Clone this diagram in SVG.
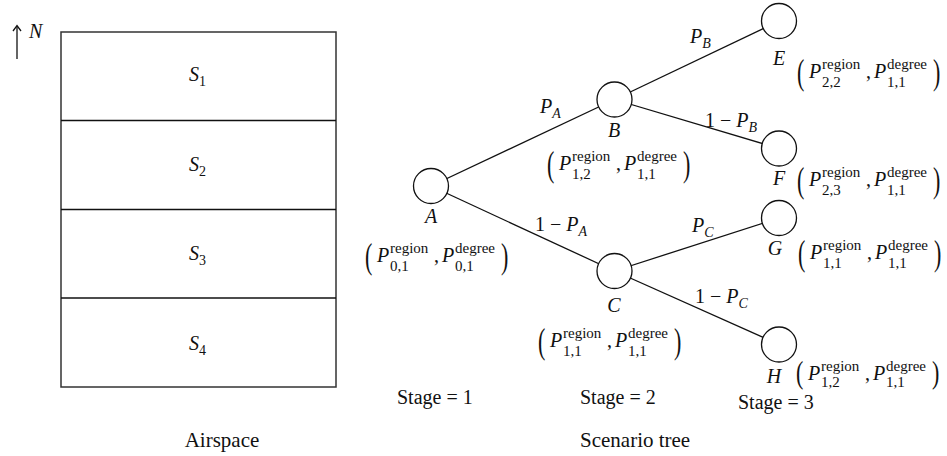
<svg xmlns="http://www.w3.org/2000/svg" width="947" height="456" viewBox="0 0 947 456" font-family="'Liberation Serif', 'DejaVu Serif', serif">
<style>
text{font-family:'Liberation Serif','DejaVu Serif',serif;fill:#111}
.it{font-style:italic}
.t{font-size:20px}
.s{font-size:14px}
.sc{font-size:15px}
.pr{font-size:22px}
.edge{stroke:#111;stroke-width:1.3;fill:none}
.node{fill:#fff;stroke:#111;stroke-width:1.3}
.box{fill:none;stroke:#333;stroke-width:1.5}
.div{stroke:#111;stroke-width:1.5}
</style>
<rect width="947" height="456" fill="#fff"/>

<g id="airspace">
  <rect class="box" x="61" y="32" width="275" height="355"/>
  <line class="div" x1="61" y1="120.5" x2="336" y2="120.5"/>
  <line class="div" x1="61" y1="209.5" x2="336" y2="209.5"/>
  <line class="div" x1="61" y1="298" x2="336" y2="298"/>
  <text class="t it" x="189" y="80.5">S<tspan class="s" font-style="normal" dy="5">1</tspan></text>
  <text class="t it" x="189" y="170.5">S<tspan class="s" font-style="normal" dy="5">2</tspan></text>
  <text class="t it" x="189" y="259.5">S<tspan class="s" font-style="normal" dy="5">3</tspan></text>
  <text class="t it" x="189" y="350">S<tspan class="s" font-style="normal" dy="5">4</tspan></text>
  <text class="t" x="222" y="447" text-anchor="middle" style="font-size:21px">Airspace</text>
</g>

<g id="north">
  <line class="edge" x1="17" y1="26" x2="17" y2="59"/>
  <polyline class="edge" points="13,31 17,25.5 21,31"/>
  <text class="t it" x="29" y="38">N</text>
</g>

<g id="connectors">
  <line class="edge" x1="431" y1="186" x2="614.5" y2="99.5"/>
  <line class="edge" x1="431" y1="186" x2="614.5" y2="271"/>
  <line class="edge" x1="614.5" y1="99.5" x2="779" y2="21"/>
  <line class="edge" x1="614.5" y1="99.5" x2="779" y2="148.5"/>
  <line class="edge" x1="614.5" y1="271" x2="779" y2="218"/>
  <line class="edge" x1="614.5" y1="271" x2="779" y2="344.5"/>
  <text class="t it" x="540" y="113">P<tspan class="s" dy="5">A</tspan></text>
  <text class="t" x="535" y="231">1 − <tspan class="it">P</tspan><tspan class="s it" dy="5">A</tspan></text>
  <text class="t it" x="690" y="43">P<tspan class="s" dy="5">B</tspan></text>
  <text class="t" x="705" y="127">1 − <tspan class="it">P</tspan><tspan class="s it" dy="5">B</tspan></text>
  <text class="t it" x="692" y="232">P<tspan class="s" dy="5">C</tspan></text>
  <text class="t" x="695" y="303">1 − <tspan class="it">P</tspan><tspan class="s it" dy="5">C</tspan></text>
</g>

<g id="node-A">
  <circle class="node" cx="431" cy="186" r="17.5"/>
  <text class="t it" x="431" y="223" text-anchor="middle">A</text>
  <g transform="translate(365,262)">
    <text class="pr" transform="translate(0,6) scale(1,1.6)">(</text>
    <text class="t it" x="12">P</text>
    <text class="sc" x="25" y="-9">region</text>
    <text class="sc" x="25" y="9">0,1</text>
    <text class="t" x="69">,</text>
    <text class="t it" x="77">P</text>
    <text class="sc" x="90" y="-9">degree</text>
    <text class="sc" x="90" y="9">0,1</text>
    <text class="pr" transform="translate(136,6) scale(1,1.6)">)</text>
  </g>
</g>

<g id="node-B">
  <circle class="node" cx="614.5" cy="99.5" r="17.5"/>
  <text class="t it" x="614" y="137" text-anchor="middle">B</text>
  <g transform="translate(547,170)">
    <text class="pr" transform="translate(0,6) scale(1,1.6)">(</text>
    <text class="t it" x="12">P</text>
    <text class="sc" x="25" y="-9">region</text>
    <text class="sc" x="25" y="9">1,2</text>
    <text class="t" x="69">,</text>
    <text class="t it" x="77">P</text>
    <text class="sc" x="90" y="-9">degree</text>
    <text class="sc" x="90" y="9">1,1</text>
    <text class="pr" transform="translate(136,6) scale(1,1.6)">)</text>
  </g>
</g>

<g id="node-C">
  <circle class="node" cx="614.5" cy="271" r="17.5"/>
  <text class="t it" x="614" y="312" text-anchor="middle">C</text>
  <g transform="translate(538,347)">
    <text class="pr" transform="translate(0,6) scale(1,1.6)">(</text>
    <text class="t it" x="12">P</text>
    <text class="sc" x="25" y="-9">region</text>
    <text class="sc" x="25" y="9">1,1</text>
    <text class="t" x="69">,</text>
    <text class="t it" x="77">P</text>
    <text class="sc" x="90" y="-9">degree</text>
    <text class="sc" x="90" y="9">1,1</text>
    <text class="pr" transform="translate(136,6) scale(1,1.6)">)</text>
  </g>
</g>

<g id="node-E">
  <circle class="node" cx="779" cy="21" r="17.5"/>
  <text class="t it" x="779" y="65" text-anchor="middle">E</text>
  <g transform="translate(797,78)">
    <text class="pr" transform="translate(0,6) scale(1,1.6)">(</text>
    <text class="t it" x="12">P</text>
    <text class="sc" x="25" y="-9">region</text>
    <text class="sc" x="25" y="9">2,2</text>
    <text class="t" x="69">,</text>
    <text class="t it" x="77">P</text>
    <text class="sc" x="90" y="-9">degree</text>
    <text class="sc" x="90" y="9">1,1</text>
    <text class="pr" transform="translate(136,6) scale(1,1.6)">)</text>
  </g>
</g>

<g id="node-F">
  <circle class="node" cx="779" cy="148.5" r="17.5"/>
  <text class="t it" x="779" y="185" text-anchor="middle">F</text>
  <g transform="translate(797,186)">
    <text class="pr" transform="translate(0,6) scale(1,1.6)">(</text>
    <text class="t it" x="12">P</text>
    <text class="sc" x="25" y="-9">region</text>
    <text class="sc" x="25" y="9">2,3</text>
    <text class="t" x="69">,</text>
    <text class="t it" x="77">P</text>
    <text class="sc" x="90" y="-9">degree</text>
    <text class="sc" x="90" y="9">1,1</text>
    <text class="pr" transform="translate(136,6) scale(1,1.6)">)</text>
  </g>
</g>

<g id="node-G">
  <circle class="node" cx="779" cy="218" r="17.5"/>
  <text class="t it" x="775" y="255" text-anchor="middle">G</text>
  <g transform="translate(798,259)">
    <text class="pr" transform="translate(0,6) scale(1,1.6)">(</text>
    <text class="t it" x="12">P</text>
    <text class="sc" x="25" y="-9">region</text>
    <text class="sc" x="25" y="9">1,1</text>
    <text class="t" x="69">,</text>
    <text class="t it" x="77">P</text>
    <text class="sc" x="90" y="-9">degree</text>
    <text class="sc" x="90" y="9">1,1</text>
    <text class="pr" transform="translate(136,6) scale(1,1.6)">)</text>
  </g>
</g>

<g id="node-H">
  <circle class="node" cx="779" cy="344.5" r="17.5"/>
  <text class="t it" x="774" y="383" text-anchor="middle">H</text>
  <g transform="translate(796,380)">
    <text class="pr" transform="translate(0,3) scale(1,1.4)">(</text>
    <text class="t it" x="12">P</text>
    <text class="sc" x="25" y="-9">region</text>
    <text class="sc" x="25" y="7">1,2</text>
    <text class="t" x="69">,</text>
    <text class="t it" x="77">P</text>
    <text class="sc" x="90" y="-9">degree</text>
    <text class="sc" x="90" y="7">1,1</text>
    <text class="pr" transform="translate(136,3) scale(1,1.4)">)</text>
  </g>
</g>

<g id="labels">
  <text class="t" x="397" y="404">Stage = 1</text>
  <text class="t" x="580" y="404">Stage = 2</text>
  <text class="t" x="738" y="409">Stage = 3</text>
  <text class="t" x="580" y="447" style="font-size:21px">Scenario tree</text>
</g>
</svg>
